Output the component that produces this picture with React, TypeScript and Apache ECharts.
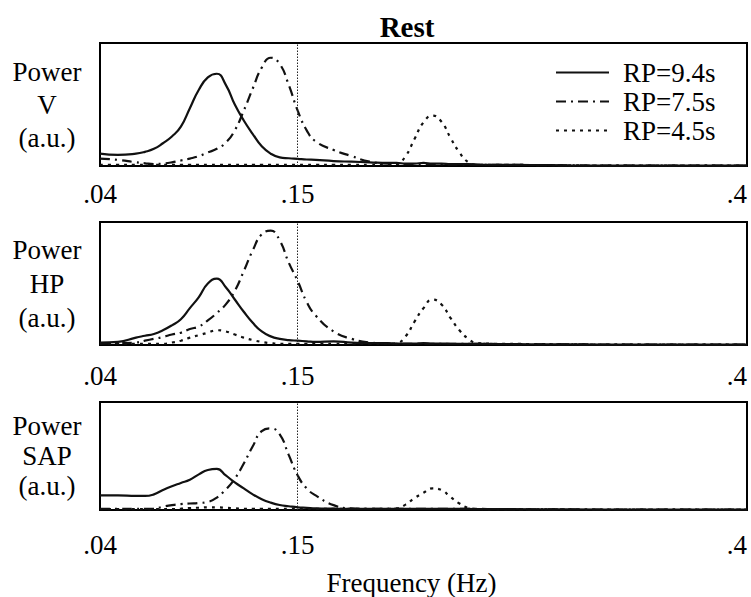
import React, { useEffect, useRef } from "react";
import * as echarts from "echarts";

// Frequency grid (Hz) shared by every spectrum
const FREQ = [
  0.04, 0.05, 0.06, 0.065, 0.07, 0.075, 0.08, 0.085, 0.09, 0.095,
  0.1, 0.105, 0.11, 0.115, 0.12, 0.125, 0.13, 0.135, 0.14, 0.145,
  0.15, 0.155, 0.16, 0.17, 0.18, 0.19, 0.2, 0.205, 0.21, 0.215,
  0.22, 0.225, 0.23, 0.235, 0.24, 0.245, 0.25, 0.26, 0.28, 0.3,
  0.34, 0.4,
];

// Ventilation (V) power, a.u.
const V_RP94 = [
  0.1, 0.09, 0.1, 0.115, 0.14, 0.185, 0.24, 0.32, 0.47, 0.62,
  0.72, 0.75, 0.66, 0.5, 0.37, 0.26, 0.16, 0.1, 0.07, 0.063,
  0.058, 0.053, 0.05, 0.04, 0.035, 0.03, 0.025, 0.025, 0.02, 0.02,
  0.025, 0.02, 0.02, 0.015, 0.015, 0.015, 0.012, 0.01, 0.008, 0.005,
  0.003, 0.003,
];
const V_RP75 = [
  0.06, 0.05, 0.03, 0.022, 0.016, 0.02, 0.03, 0.045, 0.06, 0.08,
  0.11, 0.14, 0.19, 0.29, 0.45, 0.63, 0.8, 0.88, 0.83, 0.66,
  0.45, 0.29, 0.2, 0.13, 0.08, 0.035, 0.02, 0.018, 0.015, 0.015,
  0.015, 0.014, 0.013, 0.012, 0.012, 0.011, 0.01, 0.01, 0.008, 0.005,
  0.003, 0.003,
];
const V_RP45 = [
  0.01, 0.01, 0.01, 0.01, 0.01, 0.01, 0.01, 0.01, 0.01, 0.01,
  0.01, 0.01, 0.01, 0.01, 0.01, 0.01, 0.01, 0.01, 0.01, 0.01,
  0.01, 0.01, 0.01, 0.01, 0.01, 0.01, 0.01, 0.015, 0.08, 0.22,
  0.355, 0.41, 0.36, 0.23, 0.11, 0.03, 0.01, 0.01, 0.008, 0.005,
  0.003, 0.003,
];

// Heart period (HP) power, a.u.
const HP_RP94 = [
  0.02, 0.025, 0.06, 0.075, 0.09, 0.12, 0.16, 0.21, 0.3, 0.39,
  0.5, 0.54, 0.47, 0.37, 0.27, 0.18, 0.11, 0.07, 0.05, 0.04,
  0.035, 0.03, 0.025, 0.03, 0.02, 0.015, 0.015, 0.012, 0.012, 0.012,
  0.015, 0.012, 0.012, 0.01, 0.01, 0.01, 0.01, 0.008, 0.006, 0.005,
  0.003, 0.003,
];
const HP_RP75 = [
  0.01, 0.015, 0.02, 0.035, 0.05, 0.065, 0.085, 0.1, 0.13, 0.15,
  0.2, 0.26, 0.33, 0.44, 0.6, 0.77, 0.9, 0.93, 0.85, 0.67,
  0.52, 0.35, 0.24, 0.11, 0.05, 0.02, 0.012, 0.01, 0.01, 0.01,
  0.01, 0.01, 0.01, 0.01, 0.01, 0.01, 0.01, 0.008, 0.006, 0.005,
  0.003, 0.003,
];
const HP_RP45 = [
  0.01, 0.01, 0.01, 0.01, 0.01, 0.01, 0.02, 0.035, 0.06, 0.08,
  0.1, 0.12, 0.11, 0.085, 0.06, 0.04, 0.025, 0.015, 0.01, 0.01,
  0.01, 0.01, 0.01, 0.01, 0.01, 0.01, 0.01, 0.015, 0.07, 0.19,
  0.3, 0.37, 0.33, 0.22, 0.12, 0.05, 0.015, 0.01, 0.008, 0.005,
  0.003, 0.003,
];

// Systolic arterial pressure (SAP) power, a.u.
const SAP_RP94 = [
  0.135, 0.135, 0.13, 0.13, 0.145, 0.185, 0.22, 0.25, 0.28, 0.33,
  0.37, 0.38, 0.32, 0.255, 0.2, 0.145, 0.1, 0.068, 0.046, 0.035,
  0.025, 0.02, 0.015, 0.012, 0.01, 0.01, 0.01, 0.01, 0.01, 0.01,
  0.01, 0.01, 0.01, 0.01, 0.01, 0.01, 0.008, 0.008, 0.007, 0.006,
  0.004, 0.004,
];
const SAP_RP75 = [
  0.01, 0.01, 0.01, 0.01, 0.012, 0.03, 0.045, 0.055, 0.06, 0.065,
  0.075, 0.115, 0.19, 0.29, 0.43, 0.59, 0.73, 0.755, 0.7, 0.51,
  0.32, 0.2, 0.135, 0.045, 0.015, 0.01, 0.01, 0.01, 0.01, 0.01,
  0.01, 0.01, 0.01, 0.01, 0.01, 0.01, 0.01, 0.008, 0.006, 0.005,
  0.003, 0.003,
];
const SAP_RP45 = [
  0.008, 0.008, 0.008, 0.008, 0.008, 0.008, 0.008, 0.012, 0.018, 0.022,
  0.025, 0.025, 0.02, 0.015, 0.01, 0.01, 0.01, 0.01, 0.01, 0.01,
  0.01, 0.01, 0.01, 0.01, 0.01, 0.01, 0.01, 0.015, 0.05, 0.11,
  0.16, 0.2, 0.185, 0.12, 0.06, 0.02, 0.01, 0.008, 0.006, 0.005,
  0.003, 0.003,
];

const SERIES_NAMES = ["RP=9.4s", "RP=7.5s", "RP=4.5s"];
const PANEL_LABELS = ["Power\nV\n(a.u.)", "Power\nHP\n(a.u.)", "Power\nSAP\n(a.u.)"];
const PANEL_DATA = [
  [V_RP94, V_RP75, V_RP45],
  [HP_RP94, HP_RP75, HP_RP45],
  [SAP_RP94, SAP_RP75, SAP_RP45],
];
const TICK_VALUES = [0.04, 0.15, 0.4];
const TICK_LABELS = [".04", ".15", ".4"];
const LF_HF_BOUNDARY = 0.15;

const FONT = "'Liberation Serif', 'Times New Roman', serif";
const INK = "#111";
const LINE_TYPES: any[] = ["solid", [10, 5, 2, 5], [3, 5]];

const GRIDS = [
  { left: 100, top: 43, width: 647, height: 123 },
  { left: 100, top: 222, width: 647, height: 123 },
  { left: 100, top: 402, width: 647, height: 110 },
];
const LABEL_MARGINS = [14, 17, 21];
const NAME_LINE_HEIGHTS = [33, 34, 30];

export default function App() {
  const ref = useRef<HTMLDivElement>(null);

  useEffect(() => {
    if (!ref.current) return;
    const chart = echarts.init(ref.current, undefined, { renderer: "svg" });

    const series: any[] = [];
    PANEL_DATA.forEach((panel, p) => {
      panel.forEach((values, s) => {
        series.push({
          type: "line",
          name: SERIES_NAMES[s],
          xAxisIndex: p,
          yAxisIndex: p,
          data: FREQ.map((f, i) => [f, values[i]]),
          smooth: true,
          symbol: "none",
          lineStyle: { color: INK, width: 2.2, type: LINE_TYPES[s] },
          itemStyle: { color: INK },
          markLine:
            s === 0
              ? {
                  silent: true,
                  symbol: ["none", "none"],
                  label: { show: false },
                  lineStyle: { color: "#222", width: 1, type: [1.5, 1.5] },
                  data: [{ xAxis: LF_HF_BOUNDARY }],
                }
              : undefined,
        });
      });
    });

    chart.setOption({
      animation: false,
      backgroundColor: "#fff",
      title: {
        text: "Rest",
        left: 402,
        top: 7,
        textAlign: "center",
        textStyle: { fontFamily: FONT, fontWeight: "bold", fontSize: 29, color: "#000" },
      },
      legend: {
        data: SERIES_NAMES,
        orient: "vertical",
        left: 555,
        top: 59,
        padding: 0,
        itemWidth: 53,
        itemHeight: 20,
        itemGap: 2,
        itemStyle: { opacity: 0, borderWidth: 0 },
        textStyle: {
          fontFamily: FONT,
          fontSize: 27,
          lineHeight: 20,
          color: "#000",
          padding: [0, 0, 0, 9],
        },
      },
      grid: GRIDS.map((g) => ({ ...g, show: true, borderColor: "#000", borderWidth: 2 })),
      xAxis: GRIDS.map((_, p) => ({
        type: "value",
        gridIndex: p,
        min: 0.04,
        max: 0.4,
        axisLine: { show: false },
        axisTick: { show: false },
        splitLine: { show: false },
        axisLabel: {
          customValues: TICK_VALUES,
          formatter: (v: number) => {
            const i = TICK_VALUES.findIndex((t) => Math.abs(t - v) < 1e-9);
            return i >= 0 ? TICK_LABELS[i] : "";
          },
          margin: LABEL_MARGINS[p],
          alignMaxLabel: "right",
          fontFamily: FONT,
          fontSize: 27,
          color: "#000",
        },
        name: p === 2 ? "Frequency (Hz)" : "",
        nameLocation: "middle",
        nameGap: 59,
        nameTextStyle: { fontFamily: FONT, fontSize: 27, color: "#000", padding: [0, 24, 0, 0] },
      })),
      yAxis: GRIDS.map((_, p) => ({
        type: "value",
        gridIndex: p,
        min: 0,
        max: 1,
        axisLine: { show: false },
        axisTick: { show: false },
        axisLabel: { show: false },
        splitLine: { show: false },
        name: PANEL_LABELS[p],
        nameLocation: "middle",
        nameRotate: 0,
        nameGap: 53,
        nameTextStyle: {
          fontFamily: FONT,
          fontSize: 27,
          lineHeight: NAME_LINE_HEIGHTS[p],
          color: "#000",
          align: "center",
          verticalAlign: "middle",
        },
      })),
      series,
    });

    return () => chart.dispose();
  }, []);

  return (
    <div
      ref={ref}
      style={{ position: "fixed", left: 0, top: 0, width: 751, height: 597, background: "#fff" }}
    />
  );
}
